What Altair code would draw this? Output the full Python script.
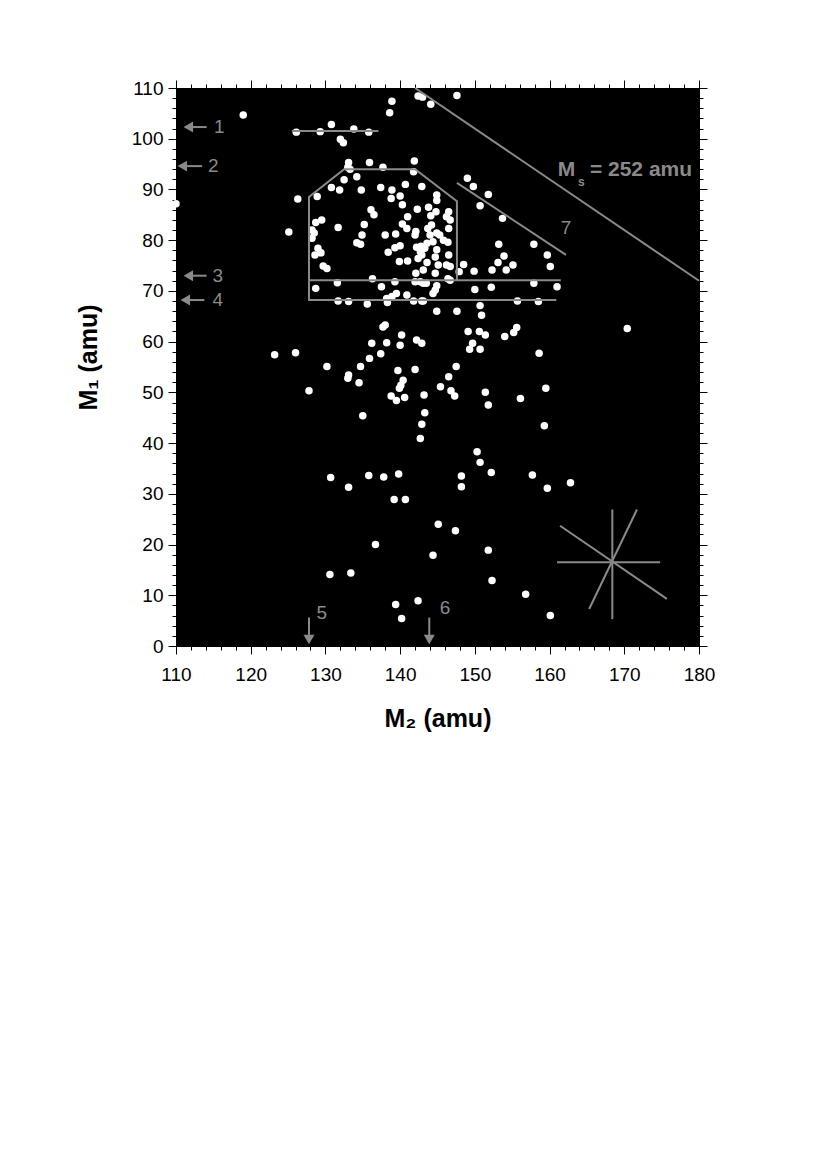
import altair as alt
import pandas as pd

# (M2, M1) pairs
POINTS = [
    (119.0, 104.7),
    (138.9, 107.4), (138.6, 105.1), (142.4, 108.4), (143.0, 108.2), (144.1, 106.8), (147.6, 108.5),
    (126.1, 101.3), (129.3, 101.4), (130.8, 102.8), (133.8, 101.9), (135.8, 101.3),
    (132.0, 99.9), (132.4, 99.2),
    (133.1, 95.3), (133.0, 94.4), (133.3, 94.0),
    (135.9, 95.3), (141.9, 95.6), (137.7, 94.4), (141.8, 93.5),
    (132.5, 91.9), (134.2, 92.5), (130.8, 90.4), (131.9, 89.9), (134.8, 89.9), (137.4, 90.4),
    (138.9, 89.9), (140.7, 91.0), (142.9, 90.6),
    (128.9, 88.6), (126.3, 88.1), (138.8, 88.2), (140.0, 88.7), (140.3, 87.0), (142.3, 86.1),
    (143.8, 86.5), (144.9, 88.9),
    (136.1, 86.0), (136.5, 85.0), (141.0, 84.6), (144.1, 84.8), (144.8, 85.6),
    (128.7, 83.5), (129.5, 84.0), (128.2, 82.0), (131.7, 82.5), (135.2, 83.1), (140.3, 83.2),
    (140.9, 82.3), (142.1, 81.7), (143.7, 82.3),
    (125.1, 81.6), (138.0, 81.0), (139.4, 81.2), (134.9, 81.0), (134.2, 79.5), (134.7, 79.2),
    (142.0, 81.0), (144.0, 81.0), (144.9, 81.4),
    (128.5, 81.4), (128.2, 80.4), (129.0, 78.4), (128.6, 77.1), (129.4, 77.5), (138.4, 77.6),
    (140.0, 78.9), (142.2, 78.6), (142.8, 78.8), (143.6, 79.4), (144.4, 79.7),
    (139.9, 75.8), (141.0, 75.9), (142.4, 76.4), (143.6, 75.6), (144.7, 76.7), (129.7, 74.9),
    (130.2, 74.4), (142.1, 73.5),
    (149.0, 92.2), (149.8, 90.6), (151.8, 89.0), (150.7, 86.8), (153.7, 84.3), (153.2, 79.2),
    (157.9, 79.2), (159.7, 77.1), (160.1, 74.8), (153.9, 76.9), (153.1, 75.6), (155.1, 75.1),
    (154.2, 74.1), (152.3, 74.1), (149.9, 73.9), (148.5, 75.2), (147.9, 73.8),
    (144.9, 87.8), (146.5, 85.6), (146.2, 84.6), (146.7, 84.0), (144.2, 83.0), (145.3, 81.0),
    (146.5, 82.3), (145.8, 80.0), (143.3, 78.4), (144.9, 78.1), (146.5, 77.1), (142.9, 77.1),
    (145.1, 75.1), (146.2, 75.1), (144.7, 73.5), (143.1, 74.1),
    (146.4, 79.6), (139.3, 78.5), (142.7, 77.7), (146.7, 74.8),
    (136.3, 72.4), (137.5, 70.8), (139.3, 71.8), (142.0, 71.8), (142.7, 71.8), (143.5, 71.5),
    (146.4, 72.4), (144.9, 71.0), (144.7, 70.2), (144.4, 69.5), (139.5, 69.5), (140.9, 69.2),
    (138.2, 68.5), (138.9, 68.9), (141.8, 68.0), (142.9, 68.0), (144.9, 66.0), (147.6, 66.0),
    (131.6, 71.6), (128.7, 70.5), (131.7, 68.0), (133.1, 67.9), (135.6, 67.4), (138.3, 67.7),
    (143.1, 71.5), (146.7, 72.1), (150.0, 70.3), (152.2, 70.7), (157.9, 71.5), (161.0, 70.8),
    (143.1, 68.0), (150.7, 67.1), (155.7, 68.0), (158.5, 67.9), (150.9, 65.2),
    (149.1, 62.0), (150.6, 62.0), (151.4, 61.3), (149.7, 59.7), (149.3, 58.5), (150.7, 58.5),
    (154.0, 61.0), (155.2, 61.8), (155.6, 62.8), (158.6, 57.7), (170.4, 62.6),
    (142.9, 59.7), (147.5, 55.1), (146.5, 53.1), (145.4, 51.1), (146.8, 50.3), (147.3, 49.3),
    (143.2, 49.5), (151.4, 50.0), (151.8, 47.5), (156.1, 48.8), (159.5, 50.8),
    (143.3, 46.0), (142.9, 43.7), (142.7, 40.9), (159.3, 43.4), (150.3, 38.3), (150.7, 36.2),
    (138.0, 63.3), (137.7, 62.9), (140.2, 61.3), (136.2, 59.7), (138.2, 59.8), (140.0, 59.3),
    (142.2, 60.3), (137.4, 57.6), (135.9, 56.7), (123.2, 57.4), (126.0, 57.8), (130.2, 55.1),
    (134.7, 55.1), (139.7, 54.3), (142.0, 54.5), (133.1, 53.4), (133.0, 52.8), (134.5, 51.9),
    (140.4, 52.4), (140.1, 51.4), (139.9, 50.8), (127.8, 50.3), (138.8, 49.3), (139.5, 48.4),
    (140.6, 49.0), (135.0, 45.4),
    (130.7, 33.2), (133.1, 31.3), (135.8, 33.6), (137.8, 33.3), (139.8, 33.9), (139.2, 28.9),
    (140.7, 28.9), (145.1, 24.0), (136.7, 20.0), (144.4, 17.9), (130.6, 14.1), (133.4, 14.4),
    (139.4, 8.2), (142.4, 8.9), (140.2, 5.4),
    (148.2, 33.5), (148.2, 31.4), (152.2, 34.2), (157.7, 33.7), (159.7, 31.1), (162.8, 32.2),
    (147.4, 22.7), (151.8, 18.9), (152.3, 12.9), (156.8, 10.2), (160.1, 6.0),
    (110.0, 87.2),
]

X_DOMAIN = [110, 180]
Y_DOMAIN = [0, 110]
X_TICKS = list(range(110, 181, 2))
Y_TICKS = list(range(0, 111, 2))

# annotation line segments, in (M2, M1) data units
SEGMENTS = {
    "line1": [(125.5, 101.5), (137.1, 101.5)],
    "hexagon": [(127.8, 72.1), (127.8, 88.5), (132.5, 94.0), (142.0, 94.0), (147.6, 87.7), (147.6, 72.1)],
    "line3": [(127.8, 72.1), (161.5, 72.1)],
    "rect4": [(127.8, 72.1), (127.8, 68.2), (160.9, 68.2)],
    "line7": [(147.6, 91.3), (162.2, 77.1)],
    "ms252": [(142.0, 110.0), (180.0, 72.0)],
    "star_h": [(161.0, 16.5), (174.8, 16.5)],
    "star_v": [(168.4, 26.9), (168.4, 5.3)],
    "star_d1": [(161.4, 23.7), (175.7, 9.3)],
    "star_d2": [(171.7, 26.9), (165.3, 7.3)],
    "arrow1": [(111.8, 102.3), (114.1, 102.3)],
    "arrow2": [(111.0, 94.6), (113.5, 94.6)],
    "arrow3": [(111.8, 73.0), (114.1, 73.0)],
    "arrow4": [(111.4, 68.2), (113.8, 68.2)],
    "arrow5": [(127.8, 5.6), (127.8, 1.8)],
    "arrow6": [(143.9, 5.6), (143.9, 1.8)],
}

ARROW_HEADS = [
    (111.65, 102.3, "triangle-left"),
    (110.85, 94.6, "triangle-left"),
    (111.65, 73.0, "triangle-left"),
    (111.25, 68.2, "triangle-left"),
    (127.8, 1.3, "triangle-down"),
    (143.9, 1.3, "triangle-down"),
]

LABELS = [
    (115.8, 102.3, "1"),
    (115.0, 94.6, "2"),
    (115.6, 73.0, "3"),
    (115.6, 68.2, "4"),
    (129.5, 6.6, "5"),
    (146.0, 7.4, "6"),
    (162.2, 82.4, "7"),
]

MS_TEXT = [
    (161.1, 93.8, "M", 21),
    (163.8, 91.4, "s", 12),
    (165.4, 93.8, "= 252 amu", 21),
]

GREY = "#8a8a8a"
FONT = "Liberation Sans"

pts_df = pd.DataFrame(POINTS, columns=["m2", "m1"])
seg_rows = []
for name, coords in SEGMENTS.items():
    for i, (a, b) in enumerate(coords):
        seg_rows.append({"seg": name, "m2": a, "m1": b, "order": i})
seg_df = pd.DataFrame(seg_rows)
head_df = pd.DataFrame(ARROW_HEADS, columns=["m2", "m1", "shape"])
lab_df = pd.DataFrame(LABELS, columns=["m2", "m1", "text"])
ms_df = pd.DataFrame(MS_TEXT, columns=["m2", "m1", "text", "size"])

xs = alt.Scale(domain=X_DOMAIN, nice=False, zero=False)
ys = alt.Scale(domain=Y_DOMAIN, nice=False, zero=False)

tick_cond = {"condition": {"test": "datum.value % 10 === 0", "value": 8}, "value": 4}
label_expr = "datum.value % 10 === 0 ? datum.label : ''"

x_main = alt.X("m2:Q", scale=xs, title="M₂ (amu)",
               axis=alt.Axis(orient="bottom", values=X_TICKS, labelExpr=label_expr,
                             tickSize=tick_cond, labelPadding=11, grid=False, labelFlush=False,
                             titleY=72, titleBaseline="middle"))
y_main = alt.Y("m1:Q", scale=ys, title="M₁ (amu)",
               axis=alt.Axis(orient="left", values=Y_TICKS, labelExpr=label_expr,
                             tickSize=tick_cond, labelPadding=5, grid=False, labelFlush=False,
                             titleX=-88, titleY=269, titleBaseline="middle"))

x_top = alt.X("m2:Q", scale=xs, title=None,
              axis=alt.Axis(orient="top", values=X_TICKS, labels=False, tickSize=tick_cond, grid=False))
y_right = alt.Y("m1:Q", scale=ys, title=None,
                axis=alt.Axis(orient="right", values=Y_TICKS, labels=False, tickSize=tick_cond, grid=False))

x_none = alt.X("m2:Q", scale=xs, axis=None)
y_none = alt.Y("m1:Q", scale=ys, axis=None)

points = alt.Chart(pts_df).mark_circle(size=56, color="white", opacity=1, clip=False).encode(
    x=x_main, y=y_main)

lines = alt.Chart(seg_df).mark_line(color=GREY, strokeWidth=2).encode(
    x=x_top, y=y_right, detail="seg:N", order="order:Q")

heads = alt.Chart(head_df).mark_point(filled=True, color=GREY, size=120, opacity=1).encode(
    x=x_none, y=y_none, shape=alt.Shape("shape:N", scale=None))

labels = alt.Chart(lab_df).mark_text(color=GREY, fontSize=19, font=FONT, baseline="middle",
                                     align="center").encode(
    x=x_none, y=y_none, text="text:N")

ms = alt.Chart(ms_df).mark_text(color=GREY, font=FONT, fontWeight="bold", baseline="middle",
                                align="left").encode(
    x=x_none, y=y_none, text="text:N", size=alt.Size("size:Q", scale=None))

chart = alt.layer(points, lines, heads, labels, ms).resolve_axis(
    x="independent", y="independent"
).properties(
    width=523, height=558,
    autosize=alt.AutoSizeParams(type="none"),
    padding={"left": 168, "top": 80, "right": 110, "bottom": 400},
    background="white",
).configure_view(
    fill="black", stroke="black", strokeWidth=1
).configure_axis(
    domainColor="black", domainWidth=1, tickColor="black", tickWidth=1,
    labelColor="black", labelFont=FONT, labelFontSize=19,
    titleColor="black", titleFont=FONT, titleFontSize=25, titleFontWeight="bold",
)

chart.save("out.html", embed_options={"renderer": "svg", "actions": False})
